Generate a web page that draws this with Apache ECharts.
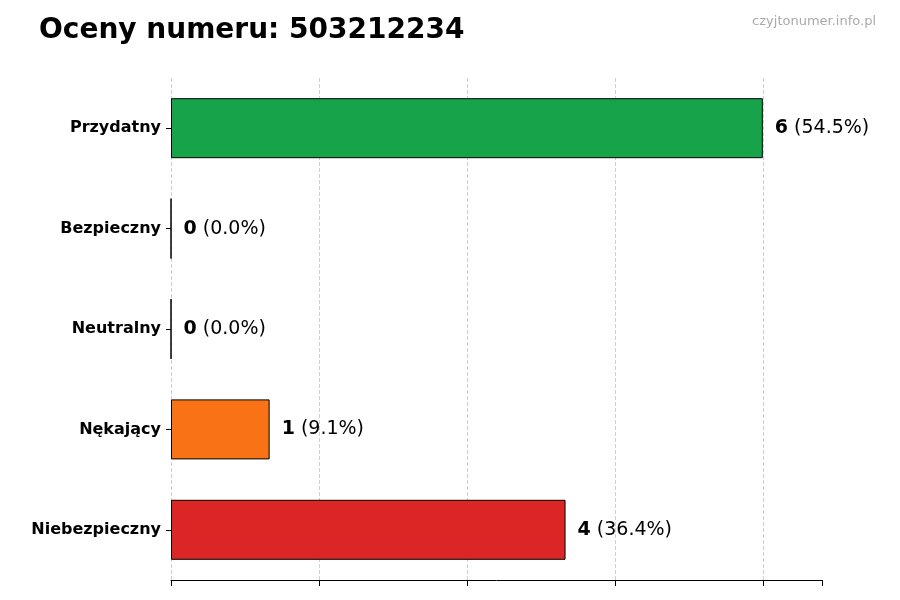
<!DOCTYPE html>
<html><head><meta charset="utf-8">
<script src="https://cdn.jsdelivr.net/npm/echarts@6/dist/echarts.min.js"></script>
<style>html,body{margin:0;padding:0;background:#fff}#c{width:900px;height:600px}</style>
</head><body><div id="c"></div>
<script>
const categories = ['Niebezpieczny','Nękający','Neutralny','Bezpieczny','Przydatny'];
const values = [4,1,0,0,6];
const percents = ['36.4%','9.1%','0.0%','0.0%','54.5%'];
const colors = ['#dc2626','#f97316','#6b7280','#3b82f6','#16a34a'];
const chart = echarts.init(document.getElementById('c'));
chart.setOption({
  animation:false,
  title:[{text:'Oceny numeru: 503212234',left:34,top:12,textStyle:{fontFamily:'DejaVu Sans',fontSize:28,fontWeight:'bold',color:'#000'}},
         {text:'czyjtonumer.info.pl',right:19,top:10,textStyle:{fontFamily:'DejaVu Sans',fontSize:13,fontWeight:'normal',color:'#aaa'}}],
  grid:{left:171,right:78,top:78,bottom:20,containLabel:false},
  xAxis:{type:'value',min:0,max:6.6,interval:1.5,
    axisLabel:{show:false},
    axisLine:{show:true,lineStyle:{color:'#000'}},
    axisTick:{show:true,length:6,lineStyle:{color:'#000'}},
    splitLine:{show:true,showMaxLine:false,lineStyle:{type:'dashed',color:'#d0d0d0'}}},
  yAxis:{type:'category',data:categories,
    axisLine:{show:false},axisTick:{show:true,alignWithLabel:true,length:5,lineStyle:{color:'#000'}},
    axisLabel:{fontFamily:'DejaVu Sans',fontSize:16,fontWeight:'bold',color:'#000',margin:10}},
  series:[{type:'bar',barWidth:60,
    data:values.map((v,i)=>({value:v,itemStyle:{color:colors[i],borderColor:'#000',borderWidth:1}})),
    label:{show:true,position:'right',distance:12,fontFamily:'DejaVu Sans',fontSize:19,color:'#000',
      formatter:p=>'{b|'+p.value+'} ('+percents[p.dataIndex]+')',
      rich:{b:{fontWeight:'bold',fontSize:19,fontFamily:'DejaVu Sans',color:'#000'}}}}]
});
</script></body></html>
